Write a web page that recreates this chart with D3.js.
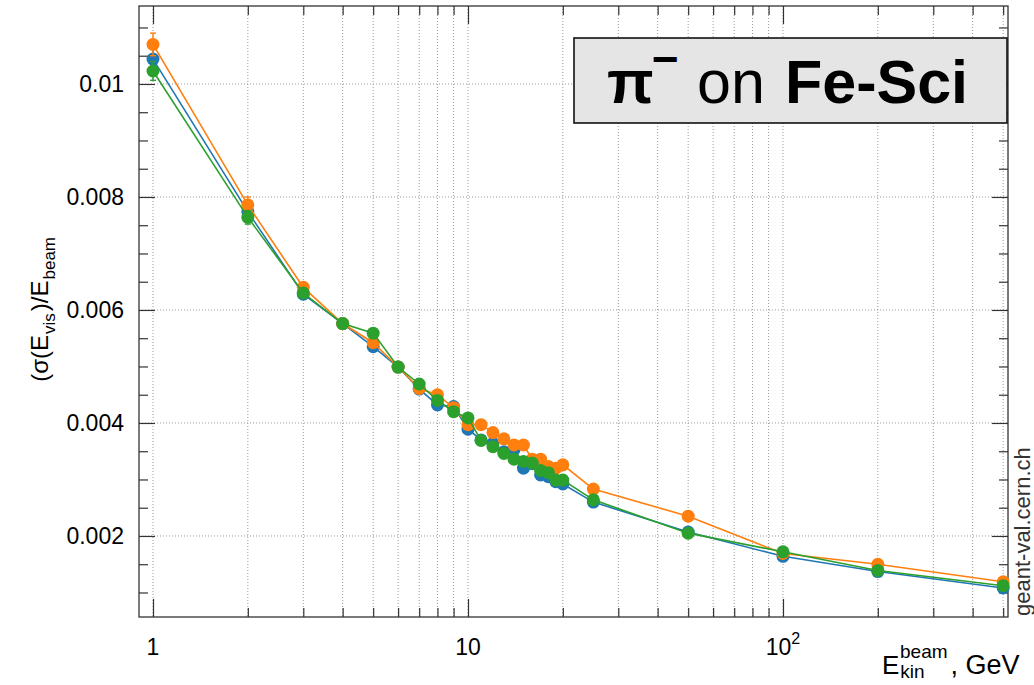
<!DOCTYPE html>
<html>
<head>
<meta charset="utf-8">
<script src="https://cdn.jsdelivr.net/npm/d3@7"></script>
<style>
  html, body { margin: 0; padding: 0; background: #fff; }
  svg { display: block; font-family: "Liberation Sans", Arial, Helvetica, sans-serif; }
</style>
</head>
<body>
<svg id="chart" width="1034" height="685"></svg>
<script>
// ---- data ----
const energies = [1,2,3,4,5,6,7,8,9,10,11,12,13,14,15,16,17,18,19,20,25,50,100,200,500];
const seriesNames = ["blue", "orange", "green"];
const seriesColors = ["#1f77b4", "#ff7f0e", "#2ca02c"];
const blueValues = [0.01044,0.00774,0.00628,0.00576,0.00535,0.00499,0.00460,0.00432,0.00429,0.00389,0.00370,0.00364,0.00349,0.00353,0.00320,0.00328,0.00308,0.00305,0.00296,0.00292,0.00260,0.00207,0.00164,0.00137,0.00108];
const orangeValues = [0.01070,0.00786,0.00640,0.00576,0.00542,0.00499,0.00461,0.00450,0.00427,0.00397,0.00397,0.00383,0.00372,0.00361,0.00361,0.00336,0.00336,0.00323,0.00320,0.00326,0.00283,0.00235,0.00169,0.00150,0.00119];
const greenValues = [0.01023,0.00764,0.00630,0.00576,0.00559,0.00499,0.00469,0.00440,0.00420,0.00409,0.00369,0.00358,0.00346,0.00336,0.00332,0.00329,0.00316,0.00312,0.00299,0.00299,0.00264,0.00205,0.00172,0.00139,0.00112];
const blueErrors = [0.00018,0.00012,0.00008,0.00006,0.00006,0.00005,0.00005,0.00005,0.00005,0.00005,0.00005,0.00005,0.00005,0.00005,0.00005,0.00005,0.00005,0.00005,0.00005,0.00005,0.00004,0.00004,0.00003,0.00003,0.00003];
const orangeErrors = [0.00020,0.00014,0.00008,0.00006,0.00006,0.00005,0.00005,0.00005,0.00005,0.00005,0.00005,0.00005,0.00005,0.00005,0.00005,0.00005,0.00005,0.00005,0.00005,0.00005,0.00004,0.00004,0.00003,0.00003,0.00003];
const greenErrors = [0.000165,0.00012,0.00008,0.00006,0.00006,0.00005,0.00005,0.00005,0.00005,0.00005,0.00005,0.00005,0.00005,0.00005,0.00005,0.00005,0.00005,0.00005,0.00005,0.00005,0.00004,0.00004,0.00003,0.00003,0.00003];
const yMajorTicks = [0.002,0.004,0.006,0.008,0.01];
const yTickLabels = ["0.002","0.004","0.006","0.008","0.01"];
const yMinorTicks = [0.001,0.0015,0.0025,0.003,0.0035,0.0045,0.005,0.0055,0.0065,0.007,0.0075,0.0085,0.009,0.0095,0.0105,0.011];
const xMajorTicks = [1,10,100];
const xMinorTicks = [2,3,4,5,6,7,8,9,20,30,40,50,60,70,80,90,200,300,400,500];

// ---- layout ----
const svg = d3.select("#chart");
const L = 139, R = 1008, T = 6, B = 617;
const x = d3.scaleLog().domain([0.9027, 518]).range([L, R]);
const y = d3.scaleLinear().domain([0.000566, 0.01138]).range([B, T]);

// grid
const grid = svg.append("g");
grid.selectAll("line.gx").data(xMajorTicks.concat(xMinorTicks)).join("line")
  .attr("x1", d => x(d)).attr("x2", d => x(d)).attr("y1", T).attr("y2", B)
  .attr("stroke", "#9a9a9a").attr("stroke-width", 1).attr("stroke-dasharray", "1,2");
grid.selectAll("line.gy").data(yMajorTicks).join("line")
  .attr("x1", L).attr("x2", R).attr("y1", d => y(d)).attr("y2", d => y(d))
  .attr("stroke", "#9a9a9a").attr("stroke-width", 1).attr("stroke-dasharray", "1,2");

// axes (ticks inside the frame)
const tickFont = 23;
function styleAxis(g) {
  g.select(".domain").remove();
  g.selectAll(".tick line").attr("stroke", "#333").attr("stroke-width", 1.2);
}
// left
svg.append("g").attr("transform", `translate(${L},0)`)
  .call(d3.axisLeft(y).tickValues(yMajorTicks).tickSize(-16).tickPadding(15)
    .tickFormat((d, i) => yTickLabels[i]))
  .call(styleAxis)
  .call(g => g.selectAll("text").attr("font-size", tickFont).attr("fill", "#000")
    .attr("font-family", "Liberation Sans, Arial, sans-serif"));
svg.append("g").attr("transform", `translate(${L},0)`)
  .call(d3.axisLeft(y).tickValues(yMinorTicks).tickSize(-9).tickFormat(""))
  .call(styleAxis);
// right
svg.append("g").attr("transform", `translate(${R},0)`)
  .call(d3.axisRight(y).tickValues(yMajorTicks).tickSize(-16).tickFormat(""))
  .call(styleAxis);
svg.append("g").attr("transform", `translate(${R},0)`)
  .call(d3.axisRight(y).tickValues(yMinorTicks).tickSize(-9).tickFormat(""))
  .call(styleAxis);
// bottom
svg.append("g").attr("transform", `translate(0,${B})`)
  .call(d3.axisBottom(x).tickValues(xMajorTicks).tickSize(-18).tickFormat(""))
  .call(styleAxis);
svg.append("g").attr("transform", `translate(0,${B})`)
  .call(d3.axisBottom(x).tickValues(xMinorTicks).tickSize(-9).tickFormat(""))
  .call(styleAxis);
// top
svg.append("g").attr("transform", `translate(0,${T})`)
  .call(d3.axisTop(x).tickValues(xMajorTicks).tickSize(-18).tickFormat(""))
  .call(styleAxis);
svg.append("g").attr("transform", `translate(0,${T})`)
  .call(d3.axisTop(x).tickValues(xMinorTicks).tickSize(-9).tickFormat(""))
  .call(styleAxis);

// x tick labels (1, 10, 10^2)
const xl = svg.append("g").attr("font-size", tickFont).attr("fill", "#000");
xl.append("text").attr("x", x(1)).attr("y", 655).attr("text-anchor", "middle").text("1");
xl.append("text").attr("x", x(10)).attr("y", 655).attr("text-anchor", "middle").text("10");
const t100 = xl.append("text").attr("x", x(100)).attr("y", 655).attr("text-anchor", "middle");
t100.append("tspan").text("10");
t100.append("tspan").attr("font-size", 16).attr("dy", -11).text("2");

// frame
svg.append("rect").attr("x", L).attr("y", T).attr("width", R - L).attr("height", B - T)
  .attr("fill", "none").attr("stroke", "#333").attr("stroke-width", 1.3);

// series
const seriesValues = [blueValues, orangeValues, greenValues];
const seriesErrors = [blueErrors, orangeErrors, greenErrors];
const line = d3.line().x(d => x(d.e)).y(d => y(d.v));
seriesNames.forEach((name, s) => {
  const pts = energies.map((e, i) => ({ e, v: seriesValues[s][i], err: seriesErrors[s][i] }));
  const g = svg.append("g").attr("class", name);
  g.append("path").datum(pts).attr("d", line).attr("fill", "none")
    .attr("stroke", seriesColors[s]).attr("stroke-width", 1.6);
  g.selectAll("line.err").data(pts).join("line")
    .attr("x1", d => x(d.e)).attr("x2", d => x(d.e))
    .attr("y1", d => y(d.v - d.err)).attr("y2", d => y(d.v + d.err))
    .attr("stroke", seriesColors[s]).attr("stroke-width", 1.4);
  g.selectAll("line.capt").data(pts).join("line")
    .attr("x1", d => x(d.e) - 3).attr("x2", d => x(d.e) + 3)
    .attr("y1", d => y(d.v + d.err)).attr("y2", d => y(d.v + d.err))
    .attr("stroke", seriesColors[s]).attr("stroke-width", 1.4);
  g.selectAll("line.capb").data(pts).join("line")
    .attr("x1", d => x(d.e) - 3).attr("x2", d => x(d.e) + 3)
    .attr("y1", d => y(d.v - d.err)).attr("y2", d => y(d.v - d.err))
    .attr("stroke", seriesColors[s]).attr("stroke-width", 1.4);
  g.selectAll("circle").data(pts).join("circle")
    .attr("cx", d => x(d.e)).attr("cy", d => y(d.v)).attr("r", 6.5)
    .attr("fill", seriesColors[s]);
});

// title box
svg.append("rect").attr("x", 574).attr("y", 38).attr("width", 433).attr("height", 85)
  .attr("fill", "#e5e5e5").attr("stroke", "#111").attr("stroke-width", 1.6);
const title = svg.append("text").attr("x", 607).attr("y", 103).attr("font-size", 61).attr("fill", "#000");
title.append("tspan").attr("font-weight", "bold").text("π");
title.append("tspan").attr("font-weight", "bold").attr("font-size", 46).attr("dy", -28).attr("dx", -2).text("−");
title.append("tspan").attr("x", 697).attr("y", 103).text("on");
title.append("tspan").attr("x", 785).attr("y", 103).attr("font-weight", "bold").text("Fe-Sci");

// y axis title
const yt = svg.append("text").attr("transform", "translate(48,237) rotate(-90)")
  .attr("text-anchor", "end").attr("font-size", 24).attr("fill", "#000");
yt.append("tspan").text("(σ(E");
yt.append("tspan").attr("font-size", 17).attr("dy", 7).attr("dx", 1).text("vis");
yt.append("tspan").attr("dy", -7).attr("dx", 2).text(")/E");
yt.append("tspan").attr("font-size", 17).attr("dy", 7).attr("dx", 1).text("beam");

// x axis title
const xt = svg.append("text").attr("x", 882).attr("y", 674).attr("font-size", 26).attr("fill", "#000");
xt.append("tspan").text("E");
xt.append("tspan").attr("font-size", 19).attr("dy", 4).attr("dx", 1).text("kin");
xt.append("tspan").attr("font-size", 19).attr("x", 900).attr("y", 658).text("beam");
xt.append("tspan").attr("y", 674).attr("dx", 3).attr("font-size", 27).text(", GeV");

// watermark
svg.append("text").attr("transform", "translate(1030,616) rotate(-90)")
  .attr("font-size", 22).attr("fill", "#333").text("geant-val.cern.ch");
</script>
</body>
</html>
